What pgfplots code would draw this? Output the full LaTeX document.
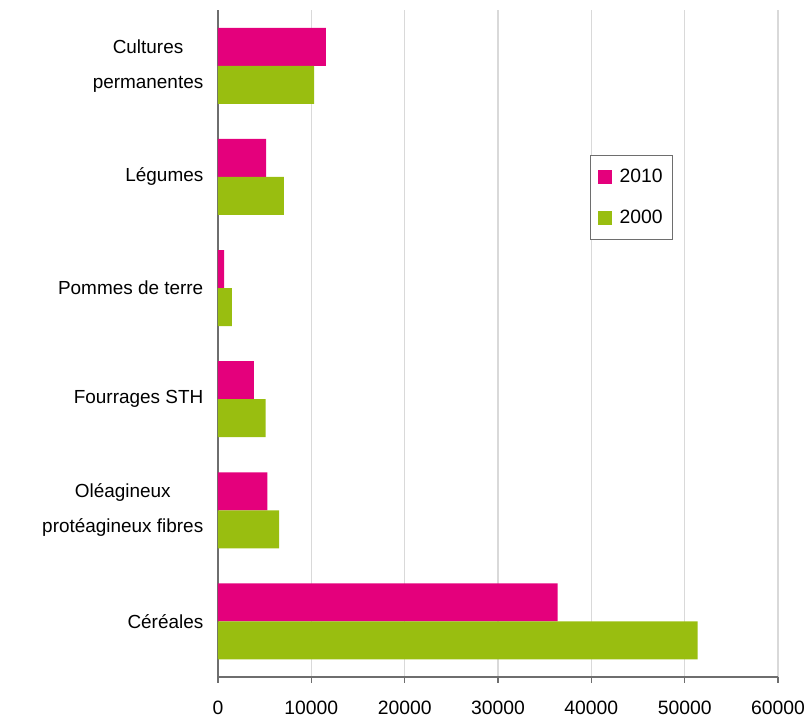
\documentclass[border=0pt]{standalone}
\usepackage{pgfplots}
\pgfplotsset{compat=1.18}
\usepackage{fontspec}
\setmainfont{Liberation Sans}

\definecolor{rose}{RGB}{228,0,124}
\definecolor{vert}{RGB}{153,190,16}
\definecolor{axisgray}{RGB}{110,110,110}
\definecolor{gridgray}{RGB}{217,217,217}

\begin{document}
\begin{tikzpicture}
\begin{axis}[
  name=ax,
  xbar,
  scale only axis,
  width=420pt,
  height=500pt,
  xmin=0, xmax=60000,
  ymin=-0.5, ymax=5.5,
  xtick={0,10000,...,60000},
  scaled x ticks=false,
  ytick={0,1,2,3,4,5},
  yticklabels={C\'er\'eales,{Ol\'eagineux\\prot\'eagineux fibres},Fourrages STH,Pommes de terre,L\'egumes,{Cultures\\permanentes}},
  yticklabel style={align=center, xshift=-3pt, font=\fontsize{14.2}{26}\selectfont},
  xticklabel style={yshift=-10pt, font=\fontsize{14.5}{17}\selectfont},
  extra y ticks={-0.5,0.5,1.5,2.5,3.5,4.5,5.5},
  extra y tick labels={},
  extra y tick style={major tick length=4.5pt, tick style={axisgray, line width=0.9pt}},
  y tick style={draw=none},
  x tick style={axisgray, line width=0.9pt},
  major tick length=4.5pt,
  tick align=outside,
  axis x line*=bottom,
  axis y line*=left,
  axis line style={axisgray, line width=0.9pt},
  xmajorgrids,
  grid style={gridgray, line width=0.8pt},
  bar width=0.342,
  /pgf/number format/1000 sep={},
  /pgf/number format/assume math mode=true,
  legend style={at={(0.664,0.783)}, anchor=north west, draw=axisgray, line width=0.6pt,
    font=\fontsize{14.5}{17}\selectfont, row sep=15pt, inner xsep=5.5pt, inner ysep=8.5pt},
  legend cell align=left,
  legend image code/.code={\fill[#1] (0pt,-5.5pt) rectangle (11pt,5.5pt); \path (14.5pt,0pt);},
]
\addplot[draw=none, fill=rose, bar shift=0.171] coordinates {
  (36400,0) (5300,1) (3850,2) (650,3) (5150,4) (11550,5)};
\addlegendentry{2010\hspace{3.5pt}}
\addplot[draw=none, fill=vert, bar shift=-0.171] coordinates {
  (51400,0) (6550,1) (5100,2) (1500,3) (7050,4) (10300,5)};
\addlegendentry{2000\hspace{3.5pt}}
\end{axis}
\path ([xshift=-163.5pt,yshift=-31.5pt]ax.south west) rectangle ([xshift=24pt,yshift=7.75pt]ax.north east);
\end{tikzpicture}
\end{document}
